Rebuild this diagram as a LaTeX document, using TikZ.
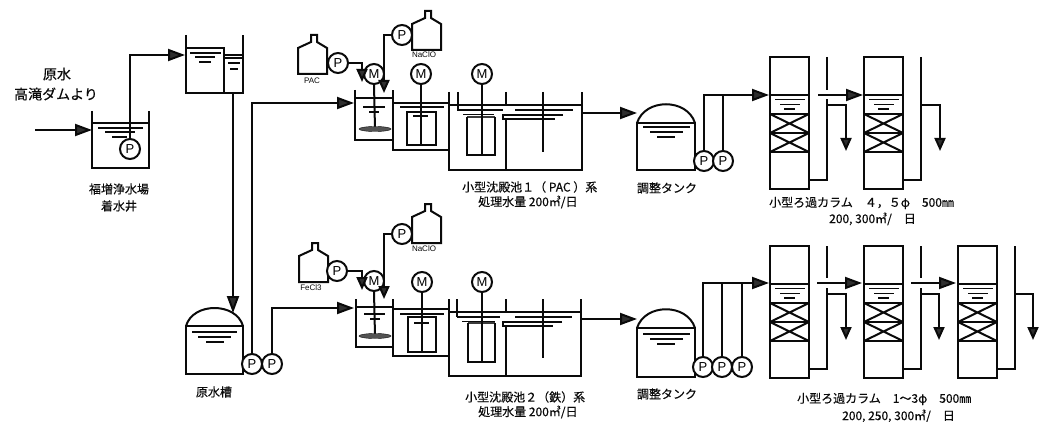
\documentclass[tikz,border=0pt]{standalone}
\usepackage{fontspec}
\setmainfont[FakeBold=0.35]{Noto Sans CJK JP}
\newfontfamily\latf{Liberation Sans}
\usetikzlibrary{arrows.meta}
\definecolor{ink}{HTML}{0A0A0A}
\definecolor{tipc}{HTML}{2E2E2E}
\tikzset{
 wall/.style={draw=ink,line width=2pt,line join=miter},
 thinw/.style={draw=ink,line width=1.6pt},
 pipe/.style={draw=ink,line width=2pt},
 flow/.style={pipe,-{Triangle[length=17pt,width=12pt,fill=tipc]}},
 dose/.style={pipe,-{Triangle[length=13pt,width=11pt,fill=tipc]}},
 pumpn/.style={circle,draw=ink,fill=white,line width=2pt,minimum size=20pt,inner sep=0pt,font=\latf\fontsize{13}{13}\selectfont},
 captxt/.style={inner sep=0pt,font=\fontsize{12}{14}\selectfont,text=ink},
 tinytxt/.style={inner sep=0pt,font=\latf\fontsize{8}{8}\selectfont,text=ink},
 colbox/.style={draw=ink,line width=2pt,anchor=north west,inner sep=0pt,outer sep=0pt,minimum width=39pt,minimum height=132pt},
 tankbox/.style={draw=ink,line width=2pt,anchor=north west,inner sep=0pt,outer sep=0pt},
}
% water surface marks
\newcommand\Wmark[3]{\draw[thinw] (#1,#3) -- (#2,#3);}
% filter column: name, x, top, wall x, drop x, end of upper wall offset
\newcommand\Filter[6]{%
 \node[colbox] (#1) at (#2,#3) {};
 \foreach \oo in {38,57,76,95} {\draw[wall] (#2,#3+\oo) -- (#2+39,#3+\oo);}
 \draw[wall] (#2,#3+57) -- (#2+39,#3+76) (#2,#3+76) -- (#2+39,#3+57);
 \draw[wall] (#2,#3+76) -- (#2+39,#3+95) (#2,#3+95) -- (#2+39,#3+76);
 \Wmark{#2+5}{#2+35}{#3+42.5}
 \Wmark{#2+10}{#2+30}{#3+47.5}
 \Wmark{#2+14}{#2+25}{#3+52}
 \draw[pipe] (#1.east |- 0,#3+123) -| (#4,#3+42);
 \draw[pipe] (#4,#3) -- (#4,#3+#6);
 \draw[dose] (#4,#3+48) -| (#5,#3+94);
}
\newcommand\Bottle[2]{%
 \draw[wall] (#1,#2+39) -- (#1,#2+13) -- (#1+13,#2+7) -- (#1+13,#2) -- (#1+19,#2) -- (#1+19,#2+7) -- (#1+29,#2+13) -- (#1+29,#2+39) -- cycle;
}
\begin{document}
\begin{tikzpicture}[x=1pt,y=-1pt]
\useasboundingbox (0,0) rectangle (1040,422);
\fill[white] (0,0) rectangle (1040,422);

%%% intake well
\draw[wall] (92,111) -- (92,168) -- (149,168) -- (149,111);
\draw[wall] (92,123) -- (149,123);
\Wmark{98}{143}{128}\Wmark{105}{135}{132}\Wmark{112}{127}{137}
\node[pumpn] (wp) at (130,149) {P};
\coordinate (in0) at (35,130);
\coordinate (wellin) at (92,130);
\draw[flow] (in0) -- (wellin);
\node[captxt,font=\fontsize{14}{16}\selectfont] (l1) at (57,74) {原水};
\node[captxt,font=\fontsize{14}{16}\selectfont] (l2) at (56,94) {高滝ダムより};
\node[captxt] (l3) at (119,189) {福増浄水場};
\node[captxt] (l4) at (119,206) {着水井};

%%% receiving tank
\draw[wall] (186,35) -- (186,93) -- (243,93) -- (243,35);
\draw[wall] (186,48) -- (224,48) -- (224,93);
\draw[wall] (224,55) -- (243,55) (224,58.5) -- (243,58.5);
\Wmark{190}{221}{53}\Wmark{195}{215}{57}\Wmark{199}{211}{62}
\Wmark{228}{240}{63}\Wmark{230}{238}{69}
\coordinate (t2in) at (185,55);
\coordinate (t2out) at (233,93);
\draw[flow] (wp.north) |- (t2in);

%%% raw water tank
\node[tankbox,minimum width=57pt,minimum height=48pt] (raw) at (186,326) {};
\draw[wall] (raw.north west) .. controls (193,302) and (236,302) .. (raw.north east);
\Wmark{192}{237}{332}\Wmark{198}{231}{337}\Wmark{206}{224}{342}
\coordinate (rawin) at (233,313);
\draw[flow] (t2out) -- (rawin);
\node[pumpn] (pr1) at (252,364) {P};
\node[pumpn] (pr2) at (272,364) {P};
\node[captxt] (l5) at (214,392) {原水槽};

%%% train 1
\Bottle{298}{35}
\node[tinytxt] (lpac) at (312,80.5) {PAC};
\node[pumpn] (pa) at (338,63) {P};
\node[pumpn] (m1) at (374,74) {M};
\Bottle{412}{11}
\node[tinytxt] (lna1) at (424,55) {NaClO};
\node[pumpn] (pb) at (402,35) {P};
\coordinate (dosea) at (362,82);
\coordinate (doseb) at (384,93);
\draw[dose] (pa.east) -| (dosea);
\draw[dose] (pb.west) -| (doseb);
\coordinate (t1in) at (354,103);
\draw[flow] (pr1.north) |- (t1in);
% mixing tank
\draw[wall] (355,90) -- (355,140) -- (393,140) -- (393,90);
\draw[wall] (355,98) -- (393,98);
\Wmark{363}{385}{107}\Wmark{369}{379}{112}
\coordinate (imp1) at (375,129);
\draw[pipe] (m1.south) -- (imp1);
\filldraw[draw=ink,fill=ink!70] (imp1) ellipse (16pt and 2.5pt);
% floc tank
\draw[wall] (393,103) -- (449,103);
\draw[wall] (393,140) -- (393,150) -- (449,150);
\Wmark{400}{444}{107}
\draw[wall] (407,112) -- (407,145) -- (436,145) -- (436,112) -- cycle;
\Wmark{413}{428}{116}
\node[pumpn] (m2) at (421,74) {M};
\coordinate (sh2) at (421,145);
\draw[pipe] (m2.south) -- (sh2);
% settling tank
\draw[wall] (449,92) -- (449,170) -- (582,170) -- (582,92);
\draw[wall] (458,92) -- (458,110);
\draw[wall] (449,105) -- (582,105);
\draw[wall] (506,92) -- (506,105) (506,119) -- (506,170);
\draw[wall] (543,92) -- (543,152);
\Wmark{457}{503}{110}\Wmark{515}{573}{110}
\draw[thinw] (563,115) -- (503,115) -- (503,119) -- (555,119);
\Wmark{463}{494}{114.5}
\draw[line width=2.6pt,draw=ink!80] (467,117) -- (495,117);
\draw[wall] (467,117) -- (467,155) -- (495,155) -- (495,117);
\node[pumpn] (m3) at (482,74) {M};
\coordinate (sh3) at (482,155);
\draw[pipe] (m3.south) -- (sh3);
\coordinate (o1) at (582,113);
\coordinate (o1t) at (637,113);
\draw[flow] (o1) -- (o1t);
\node[captxt,anchor=west] (l6) at (462,187) {小型沈殿池１（ PAC ）系};
\node[captxt,anchor=west] (l7) at (478,202) {処理水量 200㎥/日};

%%% train 2
\Bottle{299}{243}
\node[tinytxt] (lfe) at (311,287.5) {FeCl3};
\node[pumpn] (pc) at (337,271) {P};
\node[pumpn] (m4) at (374,281) {M};
\Bottle{412}{204}
\node[tinytxt] (lna2) at (424,249) {NaClO};
\node[pumpn] (pd) at (402,234) {P};
\coordinate (dosec) at (362,290);
\coordinate (dosed) at (384,299);
\draw[dose] (pc.east) -| (dosec);
\draw[dose] (pd.west) -| (dosed);
\coordinate (t3in) at (354,308);
\draw[flow] (pr2.north) |- (t3in);
\draw[wall] (356,299) -- (356,347) -- (393,347) -- (393,299);
\draw[wall] (356,307) -- (393,307);
\Wmark{364}{385}{314}\Wmark{370}{380}{319}
\coordinate (imp2) at (375,336);
\draw[pipe] (m4.south) -- (imp2);
\filldraw[draw=ink,fill=ink!70] (imp2) ellipse (16pt and 2.5pt);
\draw[wall] (393,309) -- (449,309);
\draw[wall] (393,347) -- (393,356) -- (449,356);
\Wmark{400}{444}{314}
\draw[wall] (408,317) -- (408,352) -- (436,352) -- (436,317) -- cycle;
\Wmark{414}{429}{323}
\node[pumpn] (m5) at (422,282) {M};
\coordinate (sh5) at (422,352);
\draw[pipe] (m5.south) -- (sh5);
\draw[wall] (449,299) -- (449,376) -- (581,376) -- (581,299);
\draw[wall] (457,299) -- (457,317);
\draw[wall] (449,312) -- (581,312);
\draw[wall] (506,299) -- (506,312) (506,326) -- (506,376);
\draw[wall] (543,299) -- (543,358);
\Wmark{457}{500}{317}\Wmark{515}{572}{317}
\draw[thinw] (562,322) -- (503,322) -- (503,326) -- (553,326);
\Wmark{462}{495}{321.5}
\draw[line width=2.6pt,draw=ink!80] (468,323) -- (495,323);
\draw[wall] (468,323) -- (468,362) -- (495,362) -- (495,323);
\node[pumpn] (m6) at (482,282) {M};
\coordinate (sh6) at (482,362);
\draw[pipe] (m6.south) -- (sh6);
\coordinate (o2) at (581,319);
\coordinate (o2t) at (637,319);
\draw[flow] (o2) -- (o2t);
\node[captxt,anchor=west] (l8) at (465,397) {小型沈殿池２（鉄）系};
\node[captxt,anchor=west] (l9) at (478,412) {処理水量 200㎥/日};

%%% upper adjustment tank + columns
\node[tankbox,minimum width=58pt,minimum height=47pt] (ta) at (637,123) {};
\draw[wall] (ta.north west) .. controls (645,98) and (687,98) .. (ta.north east);
\Wmark{643}{690}{127}\Wmark{650}{683}{132}\Wmark{657}{675}{137}
\node[pumpn] (pe1) at (704,161) {P};
\node[pumpn] (pe2) at (723,161) {P};
\node[captxt] (l10) at (667,188) {調整タンク};
\Filter{ca}{770}{57}{827}{846}{33}
\Filter{cb}{864}{57}{921}{940}{42}
\coordinate (cain) at (769,95);
\draw[flow] (pe1.north) |- (cain);
\draw[pipe] (pe2.north) -- (pe2.north |- cain);
\coordinate (ab0) at (818,95);
\coordinate (ab1) at (863,95);
\draw[flow] (ab0) -- (ab1);
\node[captxt,anchor=west] (l11) at (769,203) {小型ろ過カラム　４，５φ　500㎜};
\node[captxt,anchor=west] (l12) at (829,219) {200, 300㎥/　日};

%%% lower adjustment tank + columns
\node[tankbox,minimum width=58pt,minimum height=49pt] (tb) at (637,328) {};
\draw[wall] (tb.north west) .. controls (645,303) and (687,303) .. (tb.north east);
\Wmark{643}{690}{334}\Wmark{650}{683}{339}\Wmark{657}{675}{344}
\node[pumpn] (pf1) at (703,367) {P};
\node[pumpn] (pf2) at (722,367) {P};
\node[pumpn] (pf3) at (742,367) {P};
\node[captxt] (l13) at (667,394) {調整タンク};
\Filter{cc}{770}{246}{827}{846}{32}
\Filter{cd}{864}{246}{921}{939}{32}
\Filter{ce}{958}{246}{1015}{1033}{42}
\coordinate (ccin) at (769,283);
\draw[flow] (pf1.north) |- (ccin);
\draw[pipe] (pf2.north) -- (pf2.north |- ccin);
\draw[pipe] (pf3.north) -- (pf3.north |- ccin);
\coordinate (cd0) at (817,283);
\coordinate (cd1) at (862,283);
\draw[flow] (cd0) -- (cd1);
\coordinate (ce0) at (911,283);
\coordinate (ce1) at (956,283);
\draw[flow] (ce0) -- (ce1);
\node[captxt,anchor=west] (l14) at (797,399) {小型ろ過カラム　1～3φ　500㎜};
\node[captxt,anchor=west] (l15) at (842,416) {200, 250, 300㎥/　日};
\end{tikzpicture}
\end{document}
